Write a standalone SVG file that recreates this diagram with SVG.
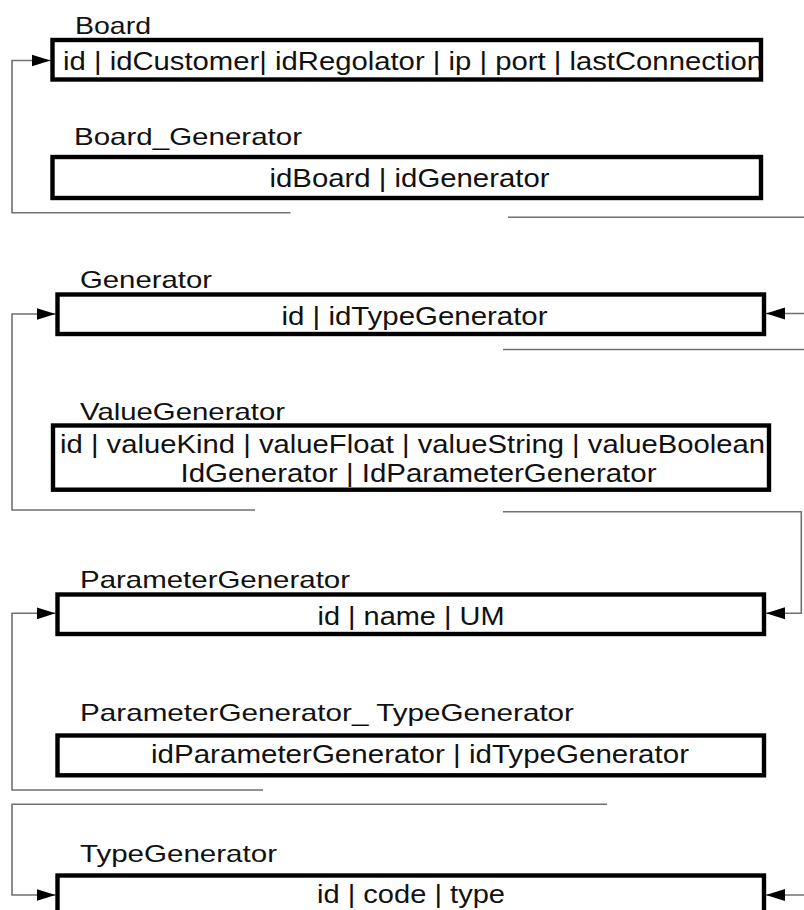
<svg xmlns="http://www.w3.org/2000/svg" width="804" height="910" viewBox="0 0 804 910">
  <style>
    text { font-family: "Liberation Sans", Arial, sans-serif; font-size: 24px; fill: #111; }
    text.field { font-size: 25.5px; }
    .mid { text-anchor: middle; }
    .box { fill: none; stroke: #000; stroke-width: 4.4; stroke-linejoin: miter; }
    .link { fill: none; stroke: #707070; stroke-width: 1.6; }
  </style>
  <defs>
    <marker id="arrow" viewBox="0 0 19 13" refX="19" refY="6.5" markerWidth="19" markerHeight="13" markerUnits="userSpaceOnUse" orient="auto">
      <path d="M0,0.5 L19,6.5 L0,12.5 Z" fill="#000"/>
    </marker>
  </defs>
  <rect width="804" height="910" fill="#fff"/>

  <!-- Connectors -->
  <g id="connectors">
    <path class="link" d="M290.5,212.7 H12 V60.5 H50.5" marker-end="url(#arrow)"/>
    <path class="link" d="M508,217.3 H804"/>
    <path class="link" d="M255,510 H12 V314 H55.5" marker-end="url(#arrow)"/>
    <path class="link" d="M804,313.5 H766" marker-end="url(#arrow)"/>
    <path class="link" d="M503,349.5 H804"/>
    <path class="link" d="M503,511.7 H801.3 V613.3 H766" marker-end="url(#arrow)"/>
    <path class="link" d="M263,790 H12 V613.3 H55.5" marker-end="url(#arrow)"/>
    <path class="link" d="M607,804.3 H12 V895 H55.5" marker-end="url(#arrow)"/>
    <path class="link" d="M804,895 H766" marker-end="url(#arrow)"/>
  </g>

  <!-- Tables -->
  <g id="board">
    <text x="75" y="34.3" textLength="76" lengthAdjust="spacingAndGlyphs">Board</text>
    <text class="field" x="63" y="70" textLength="700" lengthAdjust="spacingAndGlyphs">id | idCustomer| idRegolator | ip | port | lastConnection</text>
    <rect class="box" x="52.5" y="40" width="708.5" height="39.5"/>
  </g>

  <g id="board-generator">
    <text x="74" y="145" textLength="228" lengthAdjust="spacingAndGlyphs">Board_Generator</text>
    <text class="field mid" x="409.5" y="187" textLength="280" lengthAdjust="spacingAndGlyphs">idBoard | idGenerator</text>
    <rect class="box" x="52.5" y="157" width="708.5" height="41"/>
  </g>

  <g id="generator">
    <text x="80" y="288.3" textLength="132" lengthAdjust="spacingAndGlyphs">Generator</text>
    <text class="field mid" x="414.5" y="325" textLength="266" lengthAdjust="spacingAndGlyphs">id | idTypeGenerator</text>
    <rect class="box" x="57.5" y="294.5" width="706.5" height="39.5"/>
  </g>

  <g id="value-generator">
    <text x="80" y="420" textLength="205" lengthAdjust="spacingAndGlyphs">ValueGenerator</text>
    <text class="field" x="60" y="453.3" textLength="705" lengthAdjust="spacingAndGlyphs">id | valueKind | valueFloat | valueString | valueBoolean</text>
    <text class="field mid" x="418.5" y="481.7" textLength="476" lengthAdjust="spacingAndGlyphs">IdGenerator | IdParameterGenerator</text>
    <rect class="box" x="53" y="425.5" width="716" height="64.2"/>
  </g>

  <g id="parameter-generator">
    <text x="80" y="588" textLength="270" lengthAdjust="spacingAndGlyphs">ParameterGenerator</text>
    <text class="field mid" x="411" y="624.5" textLength="187" lengthAdjust="spacingAndGlyphs">id | name | UM</text>
    <rect class="box" x="57.5" y="594.5" width="706.5" height="39.5"/>
  </g>

  <g id="parameter-generator-type-generator">
    <text x="80" y="720.7" textLength="494" lengthAdjust="spacingAndGlyphs">ParameterGenerator_ TypeGenerator</text>
    <text class="field mid" x="420" y="763.3" textLength="538" lengthAdjust="spacingAndGlyphs">idParameterGenerator | idTypeGenerator</text>
    <rect class="box" x="57.5" y="735.5" width="706.5" height="39.8"/>
  </g>

  <g id="type-generator">
    <text x="80" y="861.7" textLength="197" lengthAdjust="spacingAndGlyphs">TypeGenerator</text>
    <text class="field mid" x="411" y="903" textLength="188" lengthAdjust="spacingAndGlyphs">id | code | type</text>
    <rect class="box" x="57.5" y="875.5" width="706.5" height="60"/>
  </g>
</svg>
